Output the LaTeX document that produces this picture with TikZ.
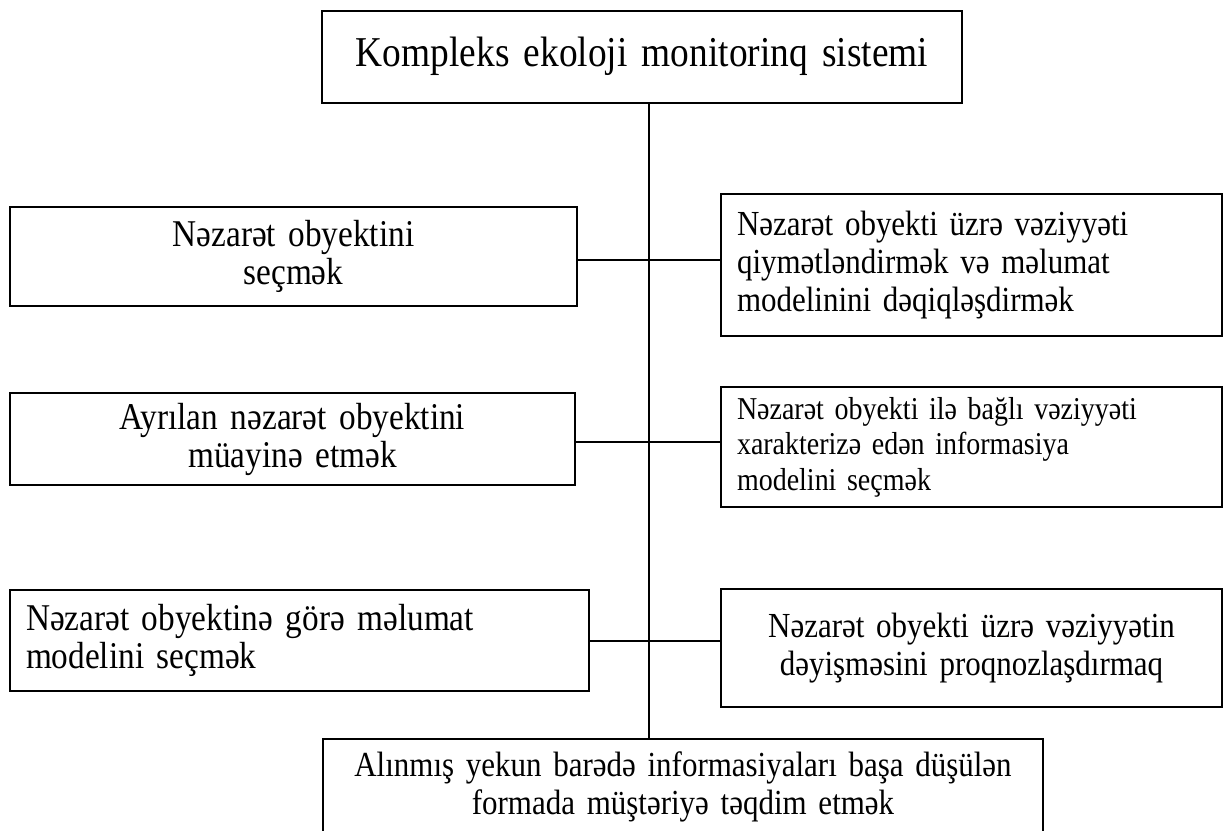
\documentclass[tikz,border=0pt]{standalone}
\usepackage{fontspec}
\setmainfont{Liberation Serif}[FakeStretch=0.88]
\usepackage{tikz}

\newcommand{\fbig}{\fontsize{21.25}{24}\selectfont}
\newcommand{\fnorm}{\fontsize{18.9}{19}\selectfont}
\newcommand{\fmid}{\fontsize{17.6}{19}\selectfont}
\newcommand{\fsmall}{\fontsize{15.9}{17.75}\selectfont}
\tikzset{
  blk/.style={draw, line width=1pt, inner xsep=8pt, inner ysep=0pt, anchor=north west, font=\fnorm},
  conn/.style={line width=1pt}
}

\begin{document}
\begin{tikzpicture}[x=0.5pt,y=-0.5pt]
  \useasboundingbox (0,0) rectangle (1230,830);

  \node[blk, font=\fbig, text width=304pt, align=center, text height=27.5pt, text depth=18.5pt] (top) at (321,10)
    {Kompleks ekoloji monitorinq sistemi};

  \node[blk, text width=267.5pt, minimum height=49.5pt, align=center] (l1) at (9,206)
    {Nəzarət obyektini\\seçmək};
  \node[blk, font=\fmid, text width=234.5pt, minimum height=71pt, align=left] (r1) at (720,193)
    {Nəzarət obyekti üzrə vəziyyəti\\qiymətləndirmək və məlumat\\modelinini dəqiqləşdirmək};

  \node[blk, text width=266.5pt, minimum height=46pt, align=center] (l2) at (9,392)
    {Ayrılan nəzarət obyektini\\müayinə etmək};
  \node[blk, font=\fsmall, text width=234.5pt, minimum height=60pt, align=left] (r2) at (720,386)
    {Nəzarət obyekti ilə bağlı vəziyyəti\\xarakterizə edən informasiya\\modelini seçmək};

  \node[blk, text width=273.5pt, minimum height=50.5pt, align=left] (l3) at (9,589)
    {Nəzarət obyektinə görə məlumat\\modelini seçmək};
  \node[blk, font=\fmid, text width=234.5pt, minimum height=59pt, align=center] (r3) at (720,588)
    {Nəzarət obyekti üzrə vəziyyətin\\dəyişməsini proqnozlaşdırmaq};

  \node[blk, font=\fmid, inner xsep=4pt, text width=352pt, minimum height=48pt, align=center] (bot) at (322,738)
    {Alınmış yekun barədə informasiyaları başa düşülən\\formada müştəriyə təqdim etmək};

  % junctions on the trunk
  \coordinate (j1) at (649,260);
  \coordinate (j2) at (649,442);
  \coordinate (j3) at (649,641);

  \draw[conn] (top.south -| j1) -- (bot.north -| j1);
  \draw[conn] (l1.east |- j1) -- (r1.west |- j1);
  \draw[conn] (l2.east |- j2) -- (r2.west |- j2);
  \draw[conn] (l3.east |- j3) -- (r3.west |- j3);

\end{tikzpicture}
\end{document}
